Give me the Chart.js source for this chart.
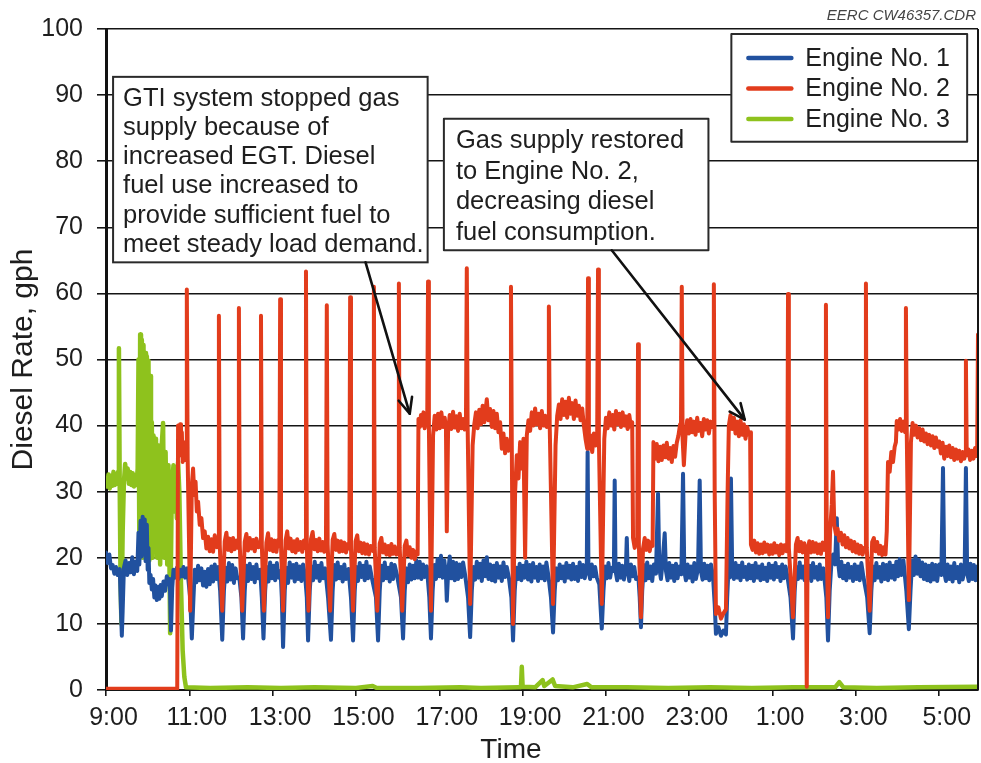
<!DOCTYPE html>
<html>
<head>
<meta charset="utf-8">
<script src="https://cdn.jsdelivr.net/npm/chart.js@4.4.1/dist/chart.umd.min.js"></script>
<style>
html,body{margin:0;padding:0;background:#fff;}
#wrap{width:981px;height:763px;position:relative;}
</style>
</head>
<body>
<div id="wrap"><canvas id="c" width="981" height="763"></canvas></div>
<script>
// ---- tick labels (x = hours after 9:00) ----
const xTickValues = [0, 2, 4, 6, 8, 10, 12, 14, 16, 18, 20];
const xTickLabels = ['9:00','11:00','13:00','15:00','17:00','19:00','21:00','23:00','1:00','3:00','5:00'];
const seriesNames = ['Engine No. 1','Engine No. 2','Engine No. 3'];

// ---- Engine No. 1 diesel rate, gph  [hours after 9:00, gph] ----
const engine1 = [[0.00,20.8],[0.04,19.2],[0.08,20.5],[0.12,18.4],[0.16,18.9],[0.20,17.6],[0.24,18.6],[0.28,17.4],[0.33,18.3],[0.36,12],[0.38,8.2],[0.40,12],[0.43,18.5],[0.47,19.6],[0.51,17.4],[0.55,19.2],[0.59,17.8],[0.63,20.1],[0.67,17.5],[0.71,19.4],[0.75,18.0],[0.78,23.8],[0.80,19.0],[0.83,25.6],[0.85,20.2],[0.88,26.2],[0.90,21.0],[0.93,25.8],[0.95,19.5],[0.98,25.0],[1.00,18.2],[1.02,21.5],[1.04,16.2],[1.07,17.4],[1.10,15.2],[1.13,16.8],[1.16,14.0],[1.19,15.8],[1.22,13.6],[1.25,15.6],[1.28,13.8],[1.31,15.9],[1.34,14.2],[1.38,16.4],[1.42,15.0],[1.46,17.2],[1.50,16.0],[1.53,16.8],[1.56,9.0],[1.59,15.5],[1.62,18.2],[1.66,17.0],[1.70,18.5],[1.74,16.8],[1.78,18.2],[1.82,17.2],[1.86,18.6],[1.90,17.0],[1.95,18.4],[2.02,14],[2.06,7.8],[2.10,14],[2.13,18.2],[2.17,16.3],[2.21,18.8],[2.25,16.6],[2.29,18.4],[2.33,15.8],[2.37,17.9],[2.41,15.6],[2.45,18.3],[2.49,16.0],[2.53,18.7],[2.57,16.4],[2.61,19.0],[2.65,16.8],[2.69,18.6],[2.74,15],[2.79,7.6],[2.83,15],[2.87,18.5],[2.91,16.4],[2.95,19.2],[2.99,16.7],[3.03,18.9],[3.07,16.2],[3.11,18.4],[3.15,16.9],[3.20,17],[3.25,14],[3.29,7.8],[3.33,15],[3.37,18.8],[3.41,16.5],[3.45,19.1],[3.49,16.8],[3.53,18.6],[3.57,16.3],[3.61,19.0],[3.65,16.9],[3.70,18.2],[3.74,14],[3.78,7.8],[3.82,15],[3.86,18.6],[3.90,16.4],[3.94,19.3],[3.98,16.9],[4.02,18.8],[4.06,16.6],[4.10,19.2],[4.14,17.0],[4.19,18],[4.22,14],[4.25,6.5],[4.29,15],[4.33,18.5],[4.37,16.2],[4.41,19.3],[4.45,17.0],[4.49,18.9],[4.53,16.4],[4.57,19.1],[4.61,16.8],[4.65,18.7],[4.69,16.5],[4.73,19.0],[4.78,17.2],[4.82,14],[4.85,7.5],[4.89,15],[4.93,18.7],[4.97,16.6],[5.01,19.4],[5.05,17.0],[5.09,18.8],[5.13,16.5],[5.17,19.2],[5.21,16.9],[5.26,18.4],[5.33,14],[5.40,7.6],[5.44,15],[5.48,18.9],[5.52,16.7],[5.56,19.3],[5.60,16.9],[5.64,18.6],[5.68,16.4],[5.72,19.0],[5.76,16.8],[5.82,18.3],[5.88,14],[5.93,7.5],[5.97,15],[6.01,18.6],[6.05,16.5],[6.09,19.2],[6.13,17.1],[6.17,18.8],[6.21,16.6],[6.25,19.4],[6.29,16.9],[6.33,18.7],[6.38,17.0],[6.48,14],[6.53,7.5],[6.57,15],[6.61,18.8],[6.65,16.6],[6.69,19.3],[6.73,16.9],[6.77,18.5],[6.81,16.4],[6.85,19.1],[6.89,16.8],[6.93,18.9],[6.99,17.2],[7.08,14],[7.13,7.8],[7.17,15],[7.21,18.4],[7.25,16.3],[7.29,19.0],[7.33,16.7],[7.37,18.8],[7.41,16.9],[7.45,19.6],[7.49,17.0],[7.53,19.4],[7.57,16.8],[7.61,19.0],[7.65,17.1],[7.70,18.7],[7.76,14],[7.80,7.8],[7.84,15],[7.88,18.9],[7.92,16.8],[7.96,19.8],[8.00,17.2],[8.04,20.3],[8.08,17.0],[8.12,19.6],[8.16,17.3],[8.18,13.5],[8.21,17.5],[8.25,20.2],[8.29,16.9],[8.33,19.4],[8.37,16.6],[8.41,19.2],[8.45,16.8],[8.49,19.0],[8.53,17.1],[8.57,19.3],[8.62,17.4],[8.69,14],[8.74,8.0],[8.78,15],[8.82,18.6],[8.86,16.7],[8.90,19.4],[8.94,17.0],[8.98,19.1],[9.02,16.5],[9.06,19.6],[9.10,17.2],[9.14,20.1],[9.18,16.8],[9.22,19.0],[9.26,16.6],[9.30,18.8],[9.34,16.4],[9.38,19.2],[9.42,17.0],[9.46,18.7],[9.50,16.5],[9.54,19.3],[9.58,17.1],[9.62,18.6],[9.67,17.0],[9.73,14],[9.77,7.5],[9.81,15],[9.85,18.5],[9.89,16.8],[9.93,19.1],[9.97,16.6],[10.01,18.8],[10.05,17.0],[10.09,19.4],[10.13,16.7],[10.17,18.9],[10.21,16.4],[10.25,19.2],[10.29,17.0],[10.33,18.6],[10.37,16.5],[10.41,19.0],[10.45,16.9],[10.49,18.7],[10.53,16.6],[10.57,19.3],[10.62,17.2],[10.68,14],[10.73,8.7],[10.77,15],[10.81,18.4],[10.85,16.6],[10.89,19.0],[10.93,16.9],[10.97,18.7],[11.01,16.4],[11.05,19.2],[11.09,17.0],[11.13,18.8],[11.17,16.7],[11.21,19.1],[11.25,16.8],[11.29,18.6],[11.33,16.5],[11.37,19.3],[11.41,17.1],[11.45,18.9],[11.49,16.9],[11.54,18.5],[11.56,36.0],[11.58,18.2],[11.62,16.8],[11.66,19.0],[11.70,17.2],[11.74,18.6],[11.78,17.0],[11.84,16],[11.90,9.3],[11.94,15],[11.98,18.7],[12.02,16.9],[12.06,19.2],[12.10,17.0],[12.14,18.5],[12.19,18.0],[12.21,31.7],[12.23,18.0],[12.27,16.6],[12.31,19.1],[12.35,17.0],[12.39,18.8],[12.43,16.7],[12.48,18.6],[12.50,23.0],[12.52,18.4],[12.56,16.5],[12.60,19.0],[12.64,17.2],[12.68,18.6],[12.72,16.8],[12.78,17],[12.81,14],[12.84,9.5],[12.87,15],[12.91,18.9],[12.95,16.6],[12.99,19.3],[13.03,16.9],[13.07,18.7],[13.11,16.5],[13.15,19.0],[13.20,17.6],[13.25,29.7],[13.28,18.5],[13.32,16.8],[13.36,19.4],[13.41,23.7],[13.44,18.0],[13.48,16.6],[13.52,19.2],[13.56,17.0],[13.60,18.8],[13.64,16.5],[13.68,19.1],[13.72,16.9],[13.76,18.7],[13.81,17.5],[13.85,32.7],[13.88,18.0],[13.92,16.6],[13.96,19.0],[14.00,17.0],[14.04,18.7],[14.08,16.4],[14.12,19.2],[14.16,16.8],[14.21,18.4],[14.25,31.7],[14.28,18.0],[14.32,16.7],[14.36,19.1],[14.40,16.9],[14.44,18.8],[14.48,16.6],[14.52,19.0],[14.57,17.2],[14.61,13],[14.64,8.5],[14.70,9.5],[14.76,8.2],[14.82,9.0],[14.88,8.4],[14.91,14],[14.94,18.2],[14.97,17.0],[15.00,32.0],[15.03,18.4],[15.07,16.8],[15.11,19.2],[15.15,17.0],[15.19,18.8],[15.23,16.6],[15.27,19.3],[15.31,17.1],[15.35,18.6],[15.39,16.7],[15.43,19.0],[15.47,16.9],[15.51,18.8],[15.55,16.5],[15.59,19.2],[15.63,17.0],[15.67,18.7],[15.71,16.6],[15.75,19.0],[15.79,16.8],[15.83,18.5],[15.87,16.5],[15.91,19.1],[15.95,17.0],[15.99,18.8],[16.03,16.7],[16.07,19.2],[16.11,17.1],[16.15,18.6],[16.19,16.5],[16.23,19.0],[16.27,16.9],[16.31,18.7],[16.36,17.0],[16.43,14],[16.49,7.8],[16.53,15],[16.57,18.6],[16.61,16.8],[16.65,19.3],[16.69,17.0],[16.73,18.7],[16.77,16.6],[16.81,19.1],[16.85,16.9],[16.89,18.8],[16.93,16.5],[16.97,19.2],[17.01,17.0],[17.05,18.6],[17.09,16.7],[17.13,19.0],[17.17,16.8],[17.22,18.4],[17.29,14],[17.33,7.5],[17.37,15],[17.41,19.0],[17.45,20.5],[17.50,19.0],[17.54,26.0],[17.57,19.5],[17.61,17.2],[17.65,19.4],[17.69,16.9],[17.73,18.8],[17.77,16.6],[17.81,19.1],[17.85,17.0],[17.89,18.6],[17.93,16.5],[17.97,19.0],[18.01,16.8],[18.05,18.7],[18.09,16.6],[18.13,19.2],[18.18,17.1],[18.27,14],[18.33,8.6],[18.37,15],[18.41,18.7],[18.45,16.6],[18.49,19.2],[18.53,17.0],[18.57,18.6],[18.61,16.4],[18.65,19.1],[18.69,16.8],[18.73,18.9],[18.77,16.6],[18.81,19.3],[18.85,17.0],[18.89,18.8],[18.93,16.7],[18.97,19.4],[19.01,17.2],[19.05,19.8],[19.09,17.4],[19.14,19.6],[19.21,15],[19.27,9.2],[19.31,15],[19.35,19.6],[19.39,17.4],[19.43,20.2],[19.47,17.6],[19.51,19.7],[19.55,17.2],[19.59,19.3],[19.63,16.8],[19.67,19.0],[19.71,16.6],[19.75,18.8],[19.79,16.4],[19.83,19.1],[19.87,16.7],[19.91,18.9],[19.95,16.5],[20.00,19.0],[20.05,17.4],[20.09,33.6],[20.12,17.8],[20.16,16.5],[20.20,19.0],[20.24,16.8],[20.28,18.7],[20.32,16.4],[20.36,19.2],[20.40,16.9],[20.44,18.6],[20.48,16.3],[20.52,19.0],[20.56,16.7],[20.61,18.2],[20.64,33.6],[20.67,17.6],[20.71,16.5],[20.75,19.1],[20.79,16.8],[20.83,18.9],[20.87,16.6],[20.91,18.7],[20.93,17.5]];

// ---- Engine No. 2 diesel rate, gph ----
const engine2 = [[0.00,0.2],[1.00,0.2],[1.71,0.2],[1.73,40.0],[1.76,38.5],[1.78,40.2],[1.80,35.5],[1.82,39.0],[1.84,34.5],[1.87,37.5],[1.90,34.8],[1.93,35.5],[1.94,60.6],[1.96,35],[2.02,12.0],[2.06,31.0],[2.09,33.5],[2.12,29.5],[2.15,31.5],[2.18,27.0],[2.21,28.5],[2.25,25.0],[2.29,26.0],[2.33,23.0],[2.37,24.0],[2.41,21.4],[2.45,23.2],[2.49,21.0],[2.53,22.8],[2.57,20.9],[2.61,23.4],[2.66,21.6],[2.69,22.0],[2.71,56.6],[2.73,22],[2.79,12.0],[2.85,22.5],[2.89,23.8],[2.93,21.2],[2.97,22.9],[3.01,21.0],[3.05,23.0],[3.09,21.3],[3.13,22.6],[3.17,21.5],[3.19,57.8],[3.21,22],[3.27,12.0],[3.33,22.4],[3.37,23.6],[3.41,21.1],[3.45,23.0],[3.49,21.4],[3.53,22.7],[3.57,21.0],[3.61,22.9],[3.66,21.6],[3.70,22.2],[3.72,56.6],[3.74,22],[3.79,12.0],[3.85,22.3],[3.89,23.7],[3.93,21.2],[3.97,22.8],[4.01,21.0],[4.05,22.6],[4.09,20.9],[4.13,22.7],[4.16,21.8],[4.18,59.1],[4.20,22],[4.25,12.0],[4.31,22.6],[4.35,24.0],[4.39,21.4],[4.43,22.9],[4.47,21.0],[4.51,22.5],[4.55,20.8],[4.59,22.8],[4.63,21.2],[4.67,22.4],[4.71,20.9],[4.75,22.6],[4.78,21.5],[4.80,63.3],[4.82,22],[4.86,12.0],[4.92,22.8],[4.96,23.9],[5.00,21.3],[5.04,22.7],[5.08,21.0],[5.12,22.9],[5.16,21.1],[5.20,22.4],[5.24,20.9],[5.28,22.0],[5.30,58.2],[5.32,22],[5.38,12.0],[5.44,22.7],[5.48,23.6],[5.52,21.2],[5.56,22.6],[5.60,20.9],[5.64,22.5],[5.68,21.0],[5.72,22.3],[5.76,20.8],[5.80,22.1],[5.84,21.4],[5.86,59.4],[5.88,21.5],[5.93,12.0],[5.99,22.5],[6.03,23.4],[6.07,21.0],[6.11,22.3],[6.15,20.7],[6.19,22.2],[6.23,20.6],[6.27,22.0],[6.31,20.5],[6.35,21.8],[6.41,21.0],[6.43,61.0],[6.45,21.5],[6.51,12.0],[6.57,22.2],[6.61,23.0],[6.65,20.8],[6.69,22.0],[6.73,20.5],[6.77,21.8],[6.81,20.4],[6.85,22.1],[6.89,20.6],[6.93,21.7],[6.97,20.5],[7.01,21.5],[7.03,61.5],[7.05,21.5],[7.11,12.0],[7.17,21.8],[7.21,22.6],[7.25,20.4],[7.29,21.6],[7.33,20.0],[7.37,21.2],[7.41,19.8],[7.45,21.0],[7.48,20.5],[7.50,41.0],[7.53,39.8],[7.56,41.6],[7.59,40.0],[7.62,42.0],[7.65,39.6],[7.68,41.2],[7.71,40.4],[7.73,61.8],[7.75,40],[7.80,12.0],[7.85,38.5],[7.89,41.5],[7.93,39.4],[7.97,41.8],[8.01,39.6],[8.05,42.0],[8.09,39.8],[8.13,41.2],[8.16,39.5],[8.18,24.0],[8.21,39.0],[8.25,41.6],[8.29,39.5],[8.33,42.1],[8.37,39.7],[8.41,41.4],[8.45,39.2],[8.49,41.8],[8.53,39.6],[8.57,41.0],[8.61,39.4],[8.64,40.5],[8.66,63.8],[8.68,40],[8.74,13.0],[8.80,37.0],[8.84,40.2],[8.88,42.0],[8.92,39.6],[8.96,42.4],[9.00,40.2],[9.04,43.0],[9.08,40.5],[9.14,44.0],[9.18,40.8],[9.22,42.5],[9.26,39.8],[9.30,42.2],[9.34,39.6],[9.38,41.8],[9.42,39.0],[9.46,40.5],[9.50,36.5],[9.54,38.8],[9.58,35.8],[9.62,38.0],[9.66,36.2],[9.70,37.5],[9.72,61.0],[9.74,37],[9.77,10.0],[9.82,30.0],[9.86,35.5],[9.90,32.0],[9.94,37.5],[9.98,33.5],[10.02,38.0],[10.06,20.0],[10.10,38.5],[10.14,40.8],[10.18,39.2],[10.22,42.0],[10.26,40.0],[10.30,42.6],[10.34,40.2],[10.38,41.8],[10.42,39.6],[10.46,42.2],[10.50,40.0],[10.54,41.5],[10.58,39.8],[10.61,40.5],[10.63,58.0],[10.65,40],[10.73,13.0],[10.79,37.0],[10.83,41.5],[10.87,43.2],[10.91,41.0],[10.95,44.0],[10.99,41.6],[11.03,43.6],[11.07,41.2],[11.11,44.2],[11.15,41.8],[11.19,43.4],[11.23,41.0],[11.27,43.8],[11.31,41.5],[11.35,43.0],[11.39,40.8],[11.43,42.6],[11.47,40.0],[11.51,38.0],[11.55,36.5],[11.57,62.3],[11.59,36.5],[11.63,38.5],[11.67,36.0],[11.71,38.8],[11.75,37.0],[11.79,39.0],[11.81,63.6],[11.83,38],[11.90,13.0],[11.96,38.0],[12.00,41.2],[12.04,39.6],[12.08,42.0],[12.12,40.0],[12.16,41.6],[12.20,39.4],[12.24,42.2],[12.28,40.2],[12.32,41.8],[12.36,39.8],[12.40,42.0],[12.44,40.0],[12.48,41.4],[12.52,39.5],[12.56,41.6],[12.60,39.8],[12.63,40.5],[12.65,23.0],[12.69,21.5],[12.73,22.8],[12.75,22],[12.77,52.3],[12.79,22],[12.84,11.0],[12.89,21.4],[12.93,23.0],[12.97,21.2],[13.01,22.6],[13.05,21.0],[13.09,22.4],[13.12,21.8],[13.14,37.5],[13.18,35.0],[13.22,37.2],[13.26,34.6],[13.30,36.8],[13.34,34.8],[13.38,37.0],[13.42,35.2],[13.46,37.4],[13.50,35.0],[13.54,36.6],[13.58,34.5],[13.62,36.9],[13.66,35.3],[13.70,37.4],[13.74,38.5],[13.78,40.2],[13.80,39.0],[13.82,61.0],[13.84,38],[13.87,34.0],[13.91,38.6],[13.95,40.8],[13.99,38.8],[14.03,41.0],[14.07,39.0],[14.11,40.6],[14.15,38.6],[14.19,41.2],[14.23,39.2],[14.27,40.4],[14.31,38.4],[14.35,41.0],[14.39,39.4],[14.43,40.8],[14.47,38.8],[14.51,40.6],[14.55,39.8],[14.57,40],[14.59,61.4],[14.61,30],[14.64,11.5],[14.70,12.5],[14.76,10.8],[14.82,11.6],[14.88,12.2],[14.92,30.0],[14.95,40.0],[14.99,41.6],[15.03,39.5],[15.07,41.2],[15.11,38.8],[15.15,40.6],[15.19,38.4],[15.23,40.8],[15.27,38.6],[15.31,40.2],[15.35,38.0],[15.39,39.8],[15.43,38.6],[15.46,39.0],[15.48,22.0],[15.52,21.2],[15.56,22.6],[15.60,20.8],[15.64,22.2],[15.68,20.6],[15.72,22.0],[15.76,20.7],[15.80,22.3],[15.84,20.9],[15.88,22.0],[15.92,20.5],[15.96,21.9],[16.00,20.6],[16.04,22.2],[16.08,20.8],[16.12,21.8],[16.16,20.4],[16.20,22.0],[16.24,20.7],[16.28,21.9],[16.33,21.0],[16.35,21.5],[16.37,59.9],[16.39,21.5],[16.49,11.0],[16.56,22.0],[16.60,23.0],[16.64,21.0],[16.68,22.4],[16.72,20.8],[16.76,22.2],[16.80,21.0],[16.82,0.5],[16.84,21.0],[16.88,22.5],[16.92,20.8],[16.96,22.4],[17.00,20.9],[17.04,22.2],[17.08,20.7],[17.12,22.0],[17.16,20.6],[17.20,22.3],[17.24,21.2],[17.26,22],[17.28,58.3],[17.30,22],[17.33,11.0],[17.38,24.0],[17.42,28.0],[17.45,33.0],[17.48,25.0],[17.52,23.6],[17.56,24.4],[17.60,22.6],[17.64,23.8],[17.68,22.0],[17.72,23.4],[17.76,21.6],[17.80,23.0],[17.84,21.4],[17.88,22.6],[17.92,21.0],[17.96,22.4],[18.00,20.8],[18.04,22.0],[18.08,20.6],[18.12,21.8],[18.16,20.5],[18.20,21.5],[18.22,21],[18.24,61.5],[18.26,21.5],[18.33,12.0],[18.39,22.4],[18.43,23.0],[18.47,21.0],[18.51,22.4],[18.55,20.6],[18.59,21.8],[18.63,20.4],[18.67,21.6],[18.71,20.5],[18.74,24.0],[18.77,34.5],[18.81,33.0],[18.85,36.0],[18.89,34.5],[18.93,36.8],[18.96,37.5],[18.98,40.7],[19.02,39.4],[19.06,41.0],[19.10,39.2],[19.14,40.6],[19.18,39.0],[19.20,57.8],[19.22,39],[19.27,13.6],[19.32,37.5],[19.36,40.4],[19.40,38.6],[19.44,40.0],[19.48,38.2],[19.52,39.6],[19.56,37.8],[19.60,39.4],[19.64,37.6],[19.68,38.8],[19.72,37.2],[19.76,38.6],[19.80,37.0],[19.84,38.4],[19.88,36.6],[19.92,38.2],[19.96,36.8],[20.00,37.6],[20.04,35.8],[20.08,37.4],[20.12,35.0],[20.16,36.8],[20.20,35.4],[20.24,37.0],[20.28,35.2],[20.32,36.6],[20.36,34.8],[20.40,36.4],[20.44,35.0],[20.48,36.2],[20.52,34.6],[20.56,36.0],[20.60,35.0],[20.62,35.5],[20.64,49.8],[20.66,35.5],[20.70,36.4],[20.74,34.8],[20.78,36.2],[20.82,35.0],[20.86,36.6],[20.89,35.4],[20.91,36],[20.93,53.8]];

// ---- Engine No. 3 diesel rate, gph ----
const engine3 = [[0.00,32.0],[0.03,30.8],[0.06,32.6],[0.09,30.5],[0.12,32.4],[0.15,30.9],[0.18,33.0],[0.21,31.0],[0.24,32.5],[0.27,31.2],[0.29,33],[0.31,51.7],[0.33,30],[0.35,16.0],[0.37,10.0],[0.40,24.0],[0.43,31.5],[0.46,34.2],[0.49,32.0],[0.52,33.5],[0.55,31.2],[0.58,33.0],[0.61,31.0],[0.64,32.8],[0.67,30.8],[0.70,32.5],[0.73,31.0],[0.76,33.5],[0.78,50.0],[0.80,22.0],[0.82,53.8],[0.84,25.0],[0.86,53.0],[0.88,20.0],[0.90,52.2],[0.92,24.0],[0.94,51.0],[0.96,21.0],[0.98,50.5],[1.00,23.0],[1.02,49.8],[1.04,19.6],[1.06,47.5],[1.08,22.0],[1.10,40.5],[1.12,20.0],[1.14,38.5],[1.17,21.0],[1.20,38.0],[1.23,20.0],[1.26,37.0],[1.30,19.0],[1.33,36.2],[1.37,40.4],[1.40,20.0],[1.43,36.0],[1.47,19.0],[1.50,34.0],[1.54,8.6],[1.58,31.0],[1.62,34.0],[1.65,27.0],[1.68,33.4],[1.70,26.0],[1.73,34.5],[1.76,30.0],[1.80,16.0],[1.84,6.0],[1.88,2.0],[1.92,0.4],[2.5,0.3],[3.4,0.4],[4.2,0.3],[5.0,0.4],[6.0,0.3],[6.4,0.6],[6.5,0.3],[7.5,0.3],[8.5,0.4],[9.0,0.3],[9.9,0.4],[9.96,0.4],[9.98,3.5],[10.00,0.5],[10.3,0.4],[10.48,1.5],[10.52,0.6],[10.72,1.6],[10.78,0.6],[11.2,0.4],[11.55,0.9],[11.65,0.4],[12.5,0.4],[13.5,0.3],[14.5,0.4],[15.5,0.3],[16.5,0.4],[17.5,0.4],[17.6,1.2],[17.7,0.4],[18.5,0.3],[19.5,0.4],[20.93,0.5]];

const seriesColors = ['#21519f', '#e23c1c', '#8ec21d'];

// ---- annotations (positions in data units: hours, gph) ----
const notes = [
  {x0: 0.17, x1: 7.72, yTop: 92.76, yBot: 64.7, padX: 10, firstBase: 29, lh: 29.2,
   lines: ['GTI system stopped gas','supply because of','increased EGT. Diesel','fuel use increased to','provide sufficient fuel to','meet steady load demand.'],
   arrow: {x0: 6.23, y0: 64.7, x1: 7.29, y1: 41.8}},
  {x0: 8.11, x1: 14.46, yTop: 86.43, yBot: 66.52, padX: 12, firstBase: 29.5, lh: 30.5,
   lines: ['Gas supply restored','to Engine No. 2,','decreasing diesel','fuel consumption.'],
   arrow: {x0: 12.14, y0: 66.52, x1: 15.33, y1: 40.9}}
];
const legendBox = {x0: 15.01, x1: 20.67, yTop: 99.25, yBot: 82.96};

const FONT = '"Liberation Sans", Arial, Helvetica, sans-serif';

const overlay = {
  id: 'overlay',
  afterDatasetsDraw(chart) {
    const {ctx, chartArea: a, scales: {x, y}} = chart;
    ctx.save();
    ctx.strokeStyle = '#151515'; ctx.lineWidth = 2;
    ctx.beginPath(); ctx.moveTo(a.right, a.top); ctx.lineTo(a.right, a.bottom); ctx.stroke();
    notes.forEach(n => {
      const L = x.getPixelForValue(n.x0), R = x.getPixelForValue(n.x1);
      const T = y.getPixelForValue(n.yTop), B = y.getPixelForValue(n.yBot);
      ctx.fillStyle = '#fff'; ctx.fillRect(L, T, R - L, B - T);
      ctx.strokeStyle = '#2a2a2a'; ctx.lineWidth = 2; ctx.strokeRect(L, T, R - L, B - T);
      ctx.fillStyle = '#1e1e1e'; ctx.font = '25.5px ' + FONT;
      ctx.textAlign = 'left'; ctx.textBaseline = 'alphabetic';
      n.lines.forEach((t, i) => ctx.fillText(t, L + n.padX, T + n.firstBase + i * n.lh));
      const ax0 = x.getPixelForValue(n.arrow.x0), ay0 = y.getPixelForValue(n.arrow.y0);
      const ax1 = x.getPixelForValue(n.arrow.x1), ay1 = y.getPixelForValue(n.arrow.y1);
      ctx.strokeStyle = '#111'; ctx.lineWidth = 2.6; ctx.lineCap = 'round'; ctx.lineJoin = 'round';
      ctx.beginPath(); ctx.moveTo(ax0, ay0); ctx.lineTo(ax1, ay1); ctx.stroke();
      const ang = Math.atan2(ay1 - ay0, ax1 - ax0), hl = 17, sp = 0.42;
      ctx.beginPath();
      ctx.moveTo(ax1 - hl * Math.cos(ang - sp), ay1 - hl * Math.sin(ang - sp));
      ctx.lineTo(ax1, ay1);
      ctx.lineTo(ax1 - hl * Math.cos(ang + sp), ay1 - hl * Math.sin(ang + sp));
      ctx.stroke();
    });
    const L = x.getPixelForValue(legendBox.x0), R = x.getPixelForValue(legendBox.x1);
    const T = y.getPixelForValue(legendBox.yTop), B = y.getPixelForValue(legendBox.yBot);
    ctx.fillStyle = '#fff'; ctx.fillRect(L, T, R - L, B - T);
    ctx.strokeStyle = '#2a2a2a'; ctx.lineWidth = 2; ctx.lineCap = 'butt'; ctx.strokeRect(L, T, R - L, B - T);
    ctx.font = '25px ' + FONT; ctx.textAlign = 'left'; ctx.textBaseline = 'alphabetic';
    chart.data.datasets.forEach((ds, i) => {
      const ly = T + 24 + i * 30.5;
      ctx.strokeStyle = ds.borderColor; ctx.lineWidth = 4.5; ctx.lineCap = 'round';
      ctx.beginPath(); ctx.moveTo(L + 17, ly); ctx.lineTo(L + 60, ly); ctx.stroke();
      ctx.fillStyle = '#1e1e1e';
      ctx.fillText(ds.label, L + 74, ly + 8);
    });
    ctx.restore();
  },
  afterDraw(chart) {
    const {ctx, scales: {x}} = chart;
    ctx.save();
    ctx.fillStyle = '#1e1e1e';
    ctx.font = '28px ' + FONT; ctx.textAlign = 'center'; ctx.textBaseline = 'alphabetic';
    ctx.fillText('Time', x.getPixelForValue(9.72), 758);
    ctx.font = 'italic 15px ' + FONT; ctx.textAlign = 'right'; ctx.fillStyle = '#444';
    ctx.fillText('EERC CW46357.CDR', 976, 20);
    ctx.restore();
  }
};

const lineStyle = {pointRadius: 0, tension: 0, borderJoinStyle: 'round', borderCapStyle: 'round', fill: false};

new Chart(document.getElementById('c'), {
  type: 'line',
  data: {
    datasets: [
      {label: seriesNames[0], data: engine1, borderColor: seriesColors[0], backgroundColor: seriesColors[0], borderWidth: 4, order: 2, ...lineStyle},
      {label: seriesNames[1], data: engine2, borderColor: seriesColors[1], backgroundColor: seriesColors[1], borderWidth: 4, order: 1, ...lineStyle},
      {label: seriesNames[2], data: engine3, borderColor: seriesColors[2], backgroundColor: seriesColors[2], borderWidth: 4.5, order: 3, ...lineStyle}
    ]
  },
  options: {
    responsive: false,
    devicePixelRatio: 1,
    animation: false,
    events: [],
    layout: {padding: {top: 27, right: 3, bottom: 0, left: 0}},
    plugins: {legend: {display: false}, tooltip: {enabled: false}},
    scales: {
      x: {
        type: 'linear', min: 0, max: 20.93,
        afterBuildTicks: s => { s.ticks = xTickValues.map(v => ({value: v})); },
        afterFit: s => { s.height = 73; },
        ticks: {
          callback: (v) => xTickLabels[xTickValues.indexOf(v)] ?? '',
          font: {family: FONT, size: 25}, color: '#1e1e1e',
          maxRotation: 0, autoSkip: false, padding: 7, labelOffset: 7.5
        },
        grid: {drawOnChartArea: false, drawTicks: true, tickLength: 6, color: '#151515', lineWidth: 1.6},
        border: {display: true, color: '#151515', width: 2}
      },
      y: {
        min: 0, max: 100,
        afterFit: s => { s.width = 106; },
        ticks: {stepSize: 10, font: {family: FONT, size: 25}, color: '#1e1e1e', padding: 14},
        grid: {color: '#151515', lineWidth: 1.6, tickLength: 9},
        border: {display: true, color: '#111', width: 3},
        title: {display: true, text: 'Diesel Rate, gph', font: {family: FONT, size: 30}, color: '#1e1e1e', padding: {top: 6, bottom: 0}}
      }
    }
  },
  plugins: [overlay]
});
</script>
</body>
</html>
